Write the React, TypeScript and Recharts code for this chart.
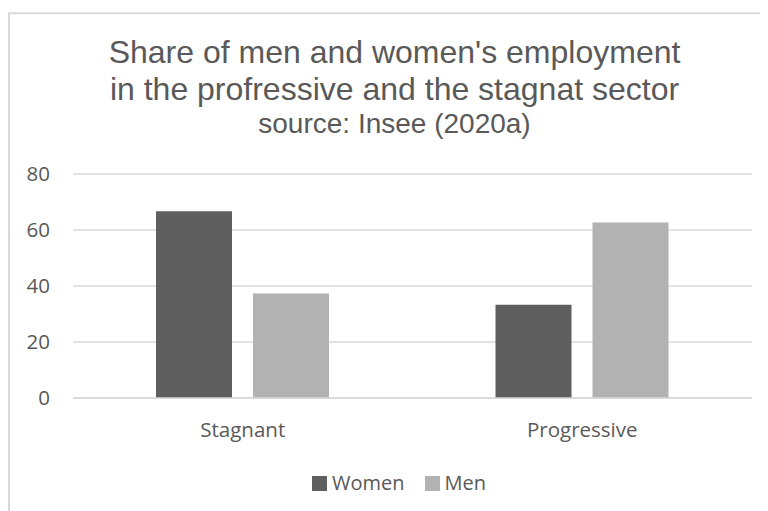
import { BarChart, Bar, XAxis, YAxis, CartesianGrid } from "recharts";

const sectors = ["Stagnant", "Progressive"];
const women = [66.7, 33.3];
const men = [37.3, 62.7];
const yTicks = [0, 20, 40, 60, 80];

const titleLines = [
  "Share of men and women's employment",
  "in the profressive and the stagnat sector",
];
const subtitle = "source: Insee (2020a)";

const series = [
  { key: "women", name: "Women", color: "#5f5f5f" },
  { key: "men", name: "Men", color: "#b2b2b2" },
];

const data = sectors.map((name, i) => ({ name, women: women[i], men: men[i] }));

const W = 760;
const H = 503;
const TEXT = "#595959";
const GRID = "#d9d9d9";
const labelFont = "'Open Sans', sans-serif";

export default function App() {
  return (
    <div style={{ position: "relative", width: W, height: H }}>
      <BarChart
        width={W}
        height={H}
        data={data}
        margin={{ top: 166, right: 16, left: 0, bottom: 83 }}
        barCategoryGap={83}
        barGap={21}
      >
        <CartesianGrid horizontal vertical={false} stroke={GRID} strokeWidth={1.5} />
        <XAxis
          dataKey="name"
          height={30}
          axisLine={{ stroke: GRID, strokeWidth: 1.5 }}
          tickLine={false}
          tickSize={0}
          tickMargin={24}
          tick={{ fill: TEXT, fontSize: 20.5, fontFamily: labelFont }}
        />
        <YAxis
          width={65}
          domain={[0, 80]}
          ticks={yTicks}
          axisLine={false}
          tickLine={false}
          tickSize={0}
          tickMargin={23}
          tick={{ fill: TEXT, fontSize: 20.5, fontFamily: labelFont }}
        />
        {series.map((s) => (
          <Bar key={s.key} dataKey={s.key} name={s.name} fill={s.color} isAnimationActive={false} />
        ))}
      </BarChart>

      {/* frame and titles */}
      <svg
        width={W}
        height={H}
        style={{ position: "absolute", left: 0, top: 0, pointerEvents: "none" }}
      >
        <path d={`M1 ${H} L1 5.3 L${W} 5.3`} fill="none" stroke={GRID} strokeWidth={2} />
        <g fontFamily="'Liberation Sans', Arial, sans-serif" fill={TEXT} textAnchor="middle">
          <text x={386.5} y={55} fontSize={32}>{titleLines[0]}</text>
          <text x={386.5} y={92} fontSize={32}>{titleLines[1]}</text>
          <text x={386.5} y={125} fontSize={28}>{subtitle}</text>
        </g>
      </svg>

      {/* legend */}
      <div
        style={{
          position: "absolute",
          left: 0,
          top: 462,
          width: 782,
          display: "flex",
          justifyContent: "center",
          gap: 20,
          fontFamily: labelFont,
          fontSize: 20,
          color: TEXT,
          lineHeight: "26px",
        }}
      >
        {series.map((s) => (
          <div key={s.key} style={{ display: "flex", alignItems: "center", gap: 5 }}>
            <span style={{ width: 15, height: 15, background: s.color, display: "inline-block" }} />
            <span>{s.name}</span>
          </div>
        ))}
      </div>
    </div>
  );
}
